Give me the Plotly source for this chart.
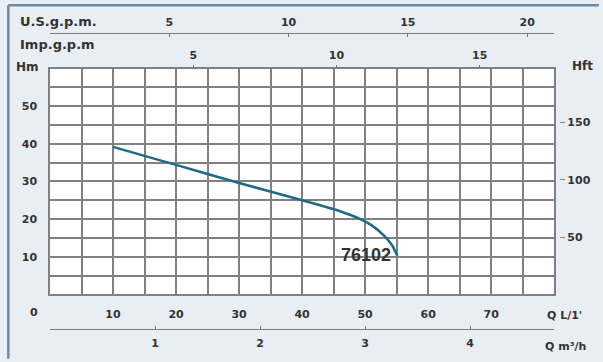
import plotly.graph_objects as go

# ---- data ----
flow_lpm = [10, 20, 30, 40, 46, 49, 51, 53, 54.3, 55.1]
head_m = [39.2, 34.4, 29.6, 25.0, 22.1, 20.2, 18.4, 15.6, 13.0, 10.3]
curve_label = "76102"

q_lpm_ticks = [10, 20, 30, 40, 50, 60, 70]
h_m_ticks = [10, 20, 30, 40, 50]
us_gpm_ticks = [5, 10, 15, 20]
imp_gpm_ticks = [5, 10, 15]
m3h_ticks = [1, 2, 3, 4]
h_ft_ticks = [50, 100, 150]

Q_MAX = 80
H_MAX = 60
LPM_PER_USGPM = 3.78541
LPM_PER_IMPGPM = 4.54609
FT_PER_M = 3.28084

# ---- layout geometry (pixels) ----
W, H = 603, 362
ML, MR, MT, MB = 50, 20, 20, 22
PW = W - ML - MR
PH = H - MT - MB
def fx(px):
    return (px - ML) / PW
def fy(py):
    return (H - MB - py) / PH

FONT = "DejaVu Sans"
TXT = "#333333"
GRID = "#808080"
GW = 1.5
tfont = dict(family=FONT, size=11, color=TXT, weight="bold")

fig = go.Figure()
fig.add_trace(go.Scatter(
    x=flow_lpm, y=head_m, mode="lines",
    line=dict(color="#1d6b86", width=2.5, shape="spline", smoothing=0.5),
    hoverinfo="skip", showlegend=False))

fig.update_layout(
    width=W, height=H, autosize=False,
    margin=dict(l=ML, r=MR, t=MT, b=MB),
    paper_bgcolor="#e9eef4", plot_bgcolor="#ffffff",
    showlegend=False,
    xaxis=dict(domain=[0, fx(558)], range=[0, Q_MAX],
               tickvals=q_lpm_ticks, ticks="", ticklabelstandoff=9,
               tickfont=tfont, showgrid=True, gridcolor=GRID, gridwidth=GW,
               minor=dict(dtick=5, showgrid=True, gridcolor=GRID, gridwidth=GW),
               showline=True, linecolor=GRID, linewidth=GW, mirror=True,
               zeroline=False, fixedrange=True),
    yaxis=dict(domain=[fy(297), fy(69)], range=[0, H_MAX],
               tickvals=h_m_ticks, ticks="", ticklabelstandoff=9,
               tickfont=tfont, showgrid=True, gridcolor=GRID, gridwidth=GW,
               minor=dict(dtick=5, showgrid=True, gridcolor=GRID, gridwidth=GW),
               showline=True, linecolor=GRID, linewidth=GW, mirror=True,
               zeroline=False, fixedrange=True),
    xaxis2=dict(overlaying="x", anchor="free", position=fy(33), side="top",
                range=[0, Q_MAX / LPM_PER_USGPM], tickvals=us_gpm_ticks,
                ticks="inside", ticklen=3, tickcolor="#777", tickwidth=1,
                showline=True, linecolor="#7a7a7a", linewidth=1.2,
                showgrid=False, zeroline=False, tickfont=tfont, fixedrange=True,
                ticklabelstandoff=2),
    xaxis3=dict(overlaying="x", anchor="y", side="top",
                range=[0, Q_MAX / LPM_PER_IMPGPM], tickvals=imp_gpm_ticks,
                ticks="outside", ticklen=3, tickcolor="#777", tickwidth=1,
                showline=False, showgrid=False, zeroline=False,
                tickfont=tfont, fixedrange=True, ticklabelstandoff=1),
    xaxis4=dict(overlaying="x", anchor="free", position=fy(332), side="bottom",
                range=[0, Q_MAX * 60 / 1000], tickvals=m3h_ticks,
                ticks="inside", ticklen=3, tickcolor="#777", tickwidth=1,
                showline=True, linecolor="#7a7a7a", linewidth=1.2,
                showgrid=False, zeroline=False, tickfont=tfont, fixedrange=True,
                ticklabelstandoff=4),
    yaxis2=dict(overlaying="y", anchor="free", position=fx(563), side="right",
                range=[0, H_MAX * FT_PER_M], tickvals=h_ft_ticks,
                ticks="outside", ticklen=5, tickcolor="#888", tickwidth=1,
                showline=False, showgrid=False, zeroline=False,
                tickfont=tfont, fixedrange=True),
)

# dummy traces so the extra axes render
fig.add_trace(go.Scatter(x=[None], y=[None], xaxis="x2", yaxis="y", showlegend=False))
fig.add_trace(go.Scatter(x=[None], y=[None], xaxis="x3", yaxis="y", showlegend=False))
fig.add_trace(go.Scatter(x=[None], y=[None], xaxis="x4", yaxis="y", showlegend=False))
fig.add_trace(go.Scatter(x=[None], y=[None], xaxis="x", yaxis="y2", showlegend=False))

lab = dict(family=FONT, size=13, color=TXT, weight="bold")
def ann(text, px, py, xanchor="center", font=lab):
    fig.add_annotation(text=text, x=fx(px), y=fy(py), xref="paper", yref="paper",
                       xanchor=xanchor, yanchor="middle", showarrow=False, font=font)

ann("U.S.g.p.m.", 18, 22, "left")
ann("Imp.g.p.m", 18, 45, "left")
ann("Hm", 14, 67, "left", dict(family=FONT, size=12, color=TXT, weight="bold"))
ann("Hft", 574, 66, "left", dict(family=FONT, size=12, color=TXT, weight="bold"))
ann("0", 34, 315, "center", tfont)
small = dict(family=FONT, size=11, color=TXT, weight="bold")
ann("Q L/1'", 549, 318, "left", small)
ann("Q m³/h", 547, 350, "left", small)

# curve label
fig.add_annotation(text=curve_label, x=flow_lpm[-1], y=head_m[-1], xref="x", yref="y",
                   xanchor="right", yanchor="middle", xshift=-4, yshift=1, showarrow=False,
                   font=dict(family="Liberation Sans", size=18, color="#333333", weight="bold"))

# frame border
BORDER = "#6a8cab"
fig.add_shape(type="line", xref="paper", yref="paper",
              x0=fx(8), x1=fx(8), y0=fy(5), y1=fy(362), line=dict(color=BORDER, width=2.5))
fig.add_shape(type="line", xref="paper", yref="paper",
              x0=fx(8), x1=fx(603), y0=fy(5), y1=fy(5), line=dict(color=BORDER, width=2.5))

fig.write_html("out.html", config={"displayModeBar": False},
               post_script="document.body.style.margin='0';document.body.style.overflow='hidden';")
